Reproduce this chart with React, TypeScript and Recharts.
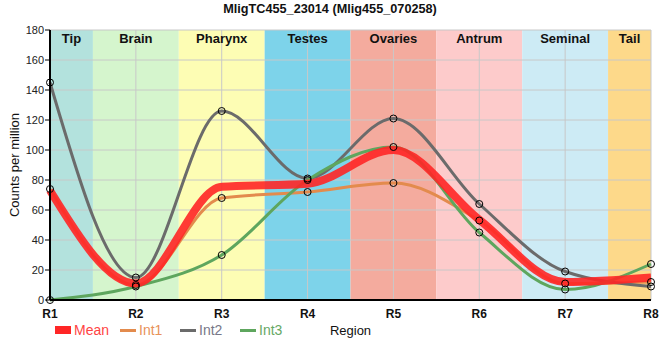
import React from 'react';
import { LineChart, Line, XAxis, YAxis, CartesianGrid, ReferenceArea, Legend } from 'recharts';

const categories = ['R1', 'R2', 'R3', 'R4', 'R5', 'R6', 'R7', 'R8'];
const meanValues = [73, 11, 75.5, 77.5, 100, 53.5, 12, 15];
const int1Values = [74, 10, 68, 72, 78, 53, 11, 12];
const int2Values = [145, 15, 126, 81, 121, 64, 19, 9];
const int3Values = [0, 9, 30, 80, 102, 45, 7, 24];

const regionNames = ['Tip', 'Brain', 'Pharynx', 'Testes', 'Ovaries', 'Antrum', 'Seminal', 'Tail'];
const regionStarts = [1, 1.5, 2.5, 3.5, 4.5, 5.5, 6.5, 7.5];
const regionEnds = [1.5, 2.5, 3.5, 4.5, 5.5, 6.5, 7.5, 8];
const regionColors = ['#b3e2dd', '#d5f5cd', '#fdfdb4', '#7dd3ea', '#f4ab9e', '#fdcbcb', '#cdebf5', '#fdd98a'];

const yTicks = [0, 20, 40, 60, 80, 100, 120, 140, 160, 180];
const xTicks = [1, 2, 3, 4, 5, 6, 7, 8];

const title = 'MligTC455_23014 (Mlig455_070258)';

const seriesInfo = [
  { key: 'mean', name: 'Mean', color: '#ff2626', text: '#ff4444', width: 8 },
  { key: 'int1', name: 'Int1', color: '#e38b4d', text: '#e8925a', width: 3 },
  { key: 'int2', name: 'Int2', color: '#6b6b6b', text: '#777788', width: 3 },
  { key: 'int3', name: 'Int3', color: '#5ea65e', text: '#66a866', width: 3 },
];

const data = categories.map((c, i) => ({
  x: i + 1,
  label: c,
  mean: meanValues[i],
  int1: int1Values[i],
  int2: int2Values[i],
  int3: int3Values[i],
}));

const FONT = '"Liberation Sans", Arial, sans-serif';

const dotStyle = { r: 3.5, stroke: '#000', strokeWidth: 1, fill: 'none' };

function LegendContent() {
  return (
    <div style={{ height: 20, position: 'relative', fontFamily: FONT, fontSize: 14 }}>
      {seriesInfo.map((s, i) => {
        const left = i === 0 ? 55 : 120 + (i - 1) * 60;
        return (
          <div key={s.key} style={{ position: 'absolute', left, top: 0, height: 20, display: 'flex', alignItems: 'center' }}>
            <div style={{ width: 16, height: i === 0 ? 8 : 3, background: s.color, marginRight: 3 }} />
            <span style={{ color: s.text, lineHeight: '20px' }}>{s.name}</span>
          </div>
        );
      })}
    </div>
  );
}

export default function App() {
  return (
    <div style={{ position: 'absolute', left: 0, top: 0, width: 660, height: 360, fontFamily: FONT }}>
      <div style={{ position: 'absolute', left: 0, top: 2, width: 660, textAlign: 'center', fontSize: 12.7, fontWeight: 'bold', color: '#111', zIndex: 2 }}>
        {title}
      </div>
      <LineChart width={660} height={360} data={data} margin={{ top: 30, right: 9, bottom: 20, left: 0 }}>
        {regionNames.map((n, i) => (
          <ReferenceArea
            key={n}
            x1={regionStarts[i]}
            x2={regionEnds[i]}
            y1={0}
            y2={180}
            fill={regionColors[i]}
            fillOpacity={1}
            stroke="none"
            zIndex={-200}
            label={{ value: n, position: 'insideTop', offset: 4, fill: '#111', fontSize: 13, fontWeight: 'bold', fontFamily: FONT }}
          />
        ))}
        <CartesianGrid stroke="#c8c8c8" strokeWidth={1} zIndex={-100} />
        <XAxis
          type="number"
          dataKey="x"
          domain={[1, 8]}
          ticks={xTicks}
          tickFormatter={(v: number) => categories[v - 1]}
          height={20}
          axisLine={{ stroke: '#000', strokeWidth: 2 }}
          tickLine={false}
          tickMargin={3}
          tick={{ fill: '#111', fontSize: 12, fontWeight: 'bold', fontFamily: FONT }}
          label={{ value: 'Region', position: 'bottom', offset: 6, fill: '#111', fontSize: 13, fontFamily: FONT }}
        />
        <XAxis xAxisId="top" orientation="top" type="number" domain={[1, 8]} height={0} tick={false} tickLine={false} axisLine={{ stroke: '#000', strokeWidth: 1.5 }} />
        <YAxis
          type="number"
          domain={[0, 180]}
          ticks={yTicks}
          width={50}
          axisLine={{ stroke: '#000', strokeWidth: 2 }}
          tickLine={{ stroke: '#000' }}
          tickSize={5}
          tickMargin={1}
          tick={{ fill: '#222', fontSize: 11, fontFamily: FONT }}
          label={{
            content: (props: any) => {
              const vb = props.viewBox || {};
              const cy = (vb.y || 30) + (vb.height || 270) / 2;
              return (
                <text x={14} y={cy} transform={`rotate(-90, 14, ${cy})`} textAnchor="middle" dominantBaseline="central" fontSize={13} fill="#111" fontFamily={FONT}>
                  Counts per million
                </text>
              );
            },
          }}
        />
        <YAxis yAxisId="right" orientation="right" domain={[0, 180]} width={0} tick={false} tickLine={false} axisLine={{ stroke: '#000', strokeWidth: 1.5 }} />
        <Line type="monotone" dataKey="int1" name="Int1" stroke={seriesInfo[1].color} strokeWidth={3} dot={false} activeDot={false} isAnimationActive={false} />
        <Line type="monotone" dataKey="int2" name="Int2" stroke={seriesInfo[2].color} strokeWidth={3} dot={false} activeDot={false} isAnimationActive={false} />
        <Line type="monotone" dataKey="int3" name="Int3" stroke={seriesInfo[3].color} strokeWidth={3} dot={false} activeDot={false} isAnimationActive={false} />
        <Line type="monotone" dataKey="mean" name="Mean" stroke={seriesInfo[0].color} strokeOpacity={0.9} strokeWidth={8} dot={false} activeDot={false} isAnimationActive={false} />
        <Line dataKey="int1" stroke="none" legendType="none" dot={dotStyle} activeDot={false} isAnimationActive={false} />
        <Line dataKey="int2" stroke="none" legendType="none" dot={dotStyle} activeDot={false} isAnimationActive={false} />
        <Line dataKey="int3" stroke="none" legendType="none" dot={dotStyle} activeDot={false} isAnimationActive={false} />
        <Legend verticalAlign="bottom" align="left" content={() => <LegendContent />} />
      </LineChart>
    </div>
  );
}
